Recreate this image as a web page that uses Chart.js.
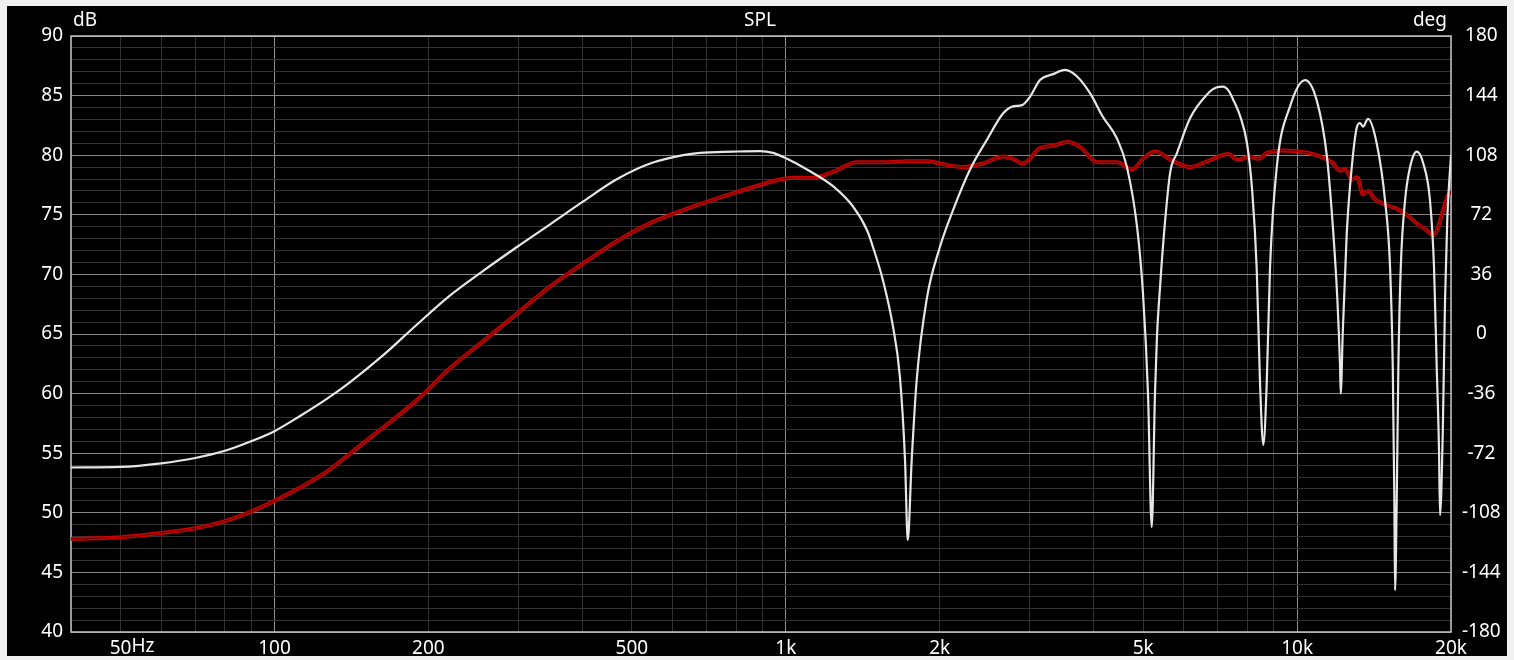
<!DOCTYPE html>
<html>
<head>
<meta charset="utf-8">
<script src="https://cdn.jsdelivr.net/npm/chart.js@4/dist/chart.umd.min.js"></script>
<style>
  html, body { margin: 0; padding: 0; background: #f0f0f0; }
  canvas { display: block; }
</style>
</head>
<body>
<canvas id="splChart" width="1514" height="660"></canvas>
<script>
// frequency grid (Hz) and which of them get a label
var xTicks = [40, 50, 60, 70, 80, 90, 100, 200, 300, 400, 500, 600, 700, 800, 900,
  1000, 2000, 3000, 4000, 5000, 6000, 7000, 8000, 9000, 10000, 20000];
var xMajor = [100, 1000, 10000];
var xLabels = { 50: '50', 100: '100', 200: '200', 500: '500', 1000: '1k', 2000: '2k',
  5000: '5k', 10000: '10k', 20000: '20k' };

// white trace
var whiteFreq = [40, 50, 60, 70, 80, 90, 100, 112, 127, 140, 163, 190, 220, 256, 298, 346, 401, 468, 543, 630,
  680, 788, 890, 944, 1006, 1100, 1237, 1353, 1442, 1481, 1549, 1621, 1672, 1711, 1732, 1763, 1803, 1886,
  2002, 2124, 2293, 2474, 2660, 2783, 2898, 3004, 3142, 3332, 3517, 3712, 3936, 4173, 4444, 4648, 4864,
  4996, 5110, 5197, 5273, 5321, 5396, 5494, 5644, 5825, 6175, 6667, 6972, 7161, 7350, 7493, 7750, 7980,
  8170, 8337, 8463, 8589, 8723, 8853, 9125, 9688, 10364, 10925, 11429, 11775, 11989, 12135, 12174, 12283,
  12505, 12792, 13081, 13275, 13456, 13765, 14311, 14860, 15200, 15385, 15497, 15545, 15664, 15780,
  15952, 16262, 16633, 17140, 17655, 18196, 18528, 18752, 18948, 19036, 19271, 19471, 19674, 20000];
var whiteDb = [53.8, 53.85, 54.15, 54.6, 55.2, 56.0, 56.85, 58.1, 59.6, 60.9, 63.2, 65.8, 68.2, 70.3, 72.3,
  74.2, 76.1, 78.0, 79.3, 80.0, 80.2, 80.3, 80.35, 80.2, 79.7, 78.8, 77.4, 75.7, 73.7, 72.3, 69.5, 65.6,
  61.4, 54.4, 47.7, 54.4, 61.1, 67.9, 72.3, 75.4, 78.8, 81.3, 83.5, 84.1, 84.2, 84.9, 86.3, 86.8, 87.15,
  86.6, 85.2, 83.2, 81.4, 79.0, 74.0, 68.4, 60.0, 48.8, 60.0, 64.8, 69.0, 73.5, 78.5, 80.2, 83.1, 85.1,
  85.7, 85.75, 85.4, 84.7, 83.2, 81.0, 77.0, 70.5, 60.9, 55.7, 60.9, 70.6, 79.0, 84.1, 86.3, 84.6, 80.0,
  73.4, 67.9, 62.3, 60.0, 65.1, 73.4, 79.0, 82.3, 82.7, 82.4, 83.05, 81.0, 76.2, 70.6, 62.3, 51.1, 43.5,
  51.1, 62.3, 70.6, 76.2, 79.0, 80.3, 79.3, 76.2, 70.6, 62.3, 55.3, 49.8, 56.7, 67.9, 74.8, 80.0];

// red trace
var redFreq = [40, 50, 60, 70, 80, 90, 100, 112, 127, 139, 156, 174, 187, 195, 220, 256, 298, 346, 401, 468,
  543, 630, 680, 788, 890, 961, 1033, 1131, 1237, 1378, 1549, 1726, 1889, 2002, 2222, 2431, 2660, 2783,
  2910, 3142, 3332, 3549, 3762, 4062, 4444, 4755, 4996, 5273, 5720, 6175, 6848, 7328, 7664, 8088, 8384,
  8733, 9385, 10457, 11088, 11704, 12135, 12410, 12806, 13098, 13460, 13765, 14204, 14995, 15684, 16404,
  17164, 17948, 18444, 19732, 20000];
var redDb = [47.8, 47.95, 48.3, 48.7, 49.3, 50.1, 51.0, 52.1, 53.5, 54.8, 56.5, 58.1, 59.2, 59.9, 62.1, 64.4,
  66.7, 69.0, 70.9, 72.8, 74.3, 75.4, 75.9, 76.8, 77.5, 77.9, 78.1, 78.1, 78.6, 79.4, 79.4, 79.5, 79.5,
  79.3, 79.0, 79.3, 79.9, 79.7, 79.3, 80.6, 80.8, 81.1, 80.7, 79.4, 79.4, 78.8, 79.7, 80.3, 79.5, 79.0,
  79.7, 80.1, 79.6, 79.9, 79.7, 80.2, 80.4, 80.2, 79.9, 79.4, 78.7, 78.8, 78.0, 78.15, 76.7, 77.0, 76.3,
  75.8, 75.5, 75.0, 74.25, 73.7, 73.3, 76.6, 77.0];

function toPoints(fs, vs) {
  return fs.map(function (f, i) { return { x: f, y: vs[i] }; });
}

var textFont = { family: "'Noto Sans', 'Open Sans', sans-serif", size: 19 };

// backgrounds, plot frame and the corner texts
var panelPlugin = {
  id: 'panel',
  beforeDraw: function (chart) {
    var ctx = chart.ctx;
    ctx.save();
    ctx.fillStyle = '#f0f0f0';
    ctx.fillRect(0, 0, chart.width, chart.height);
    ctx.fillStyle = '#000000';
    ctx.fillRect(7, 6, 1500, 650);
    ctx.restore();
  },
  beforeDatasetsDraw: function (chart) {
    var a = chart.chartArea, ctx = chart.ctx;
    ctx.save();
    ctx.strokeStyle = '#c4c4c4';
    ctx.lineWidth = 1.5;
    ctx.strokeRect(a.left, a.top, a.right - a.left, a.bottom - a.top);
    ctx.restore();
  },
  afterDraw: function (chart) {
    var ctx = chart.ctx;
    ctx.save();
    ctx.fillStyle = '#ffffff';
    ctx.font = textFont.size + 'px ' + textFont.family;
    ctx.textBaseline = 'middle';
    ctx.textAlign = 'left';
    ctx.fillText('dB', 73, 21);
    ctx.textAlign = 'center';
    ctx.fillText('SPL', 760, 21);
    ctx.textAlign = 'right';
    ctx.fillText('deg', 1447, 21);
    // "Hz" unit after the 50 label
    var x50 = chart.scales.x.getPixelForValue(50);
    var w50 = ctx.measureText('50').width;
    ctx.textAlign = 'left';
    ctx.fillText('Hz', x50 + w50 / 2, 647);
    ctx.restore();
  }
};

new Chart(document.getElementById('splChart').getContext('2d'), {
  type: 'line',
  data: {
    datasets: [{
      label: 'white',
      data: toPoints(whiteFreq, whiteDb),
      borderColor: '#e6e6e6',
      borderWidth: 2.2,
      pointRadius: 0,
      cubicInterpolationMode: 'monotone'
    }, {
      label: 'red inner',
      data: toPoints(redFreq, redDb),
      borderColor: '#700000',
      borderWidth: 1.2,
      pointRadius: 0,
      cubicInterpolationMode: 'monotone'
    }, {
      label: 'red',
      data: toPoints(redFreq, redDb),
      borderColor: '#cc0000',
      borderWidth: 4,
      pointRadius: 0,
      cubicInterpolationMode: 'monotone'
    }]
  },
  options: {
    responsive: false,
    animation: false,
    layout: { padding: { top: 36, left: 0, right: 0, bottom: 0 } },
    plugins: {
      legend: { display: false },
      tooltip: { enabled: false }
    },
    scales: {
      x: {
        type: 'logarithmic',
        min: 40,
        max: 20000,
        afterBuildTicks: function (axis) {
          axis.ticks = xTicks.map(function (v) { return { value: v }; });
        },
        afterFit: function (axis) { axis.height = 28; },
        ticks: {
          autoSkip: false,
          maxRotation: 0,
          padding: 5,
          color: '#ffffff',
          font: textFont,
          callback: function (v) { return xLabels[v] || ''; }
        },
        grid: {
          drawTicks: false,
          color: function (c) {
            return xMajor.indexOf(c.tick.value) >= 0 ? '#8e8e8e' : '#323232';
          },
          lineWidth: 1
        },
        border: { display: false }
      },
      y: {
        position: 'left',
        min: 40,
        max: 90,
        afterFit: function (axis) { axis.width = 71; },
        ticks: {
          stepSize: 1,
          autoSkip: false,
          padding: 8,
          color: '#ffffff',
          font: textFont,
          callback: function (v) { return v % 5 === 0 ? String(v) : ''; }
        },
        grid: {
          drawTicks: false,
          color: function (c) { return c.tick.value % 5 === 0 ? '#858585' : '#323232'; },
          lineWidth: 1
        },
        border: { display: false }
      },
      y2: {
        position: 'right',
        min: -180,
        max: 180,
        afterFit: function (axis) { axis.width = 63; },
        ticks: {
          stepSize: 36,
          autoSkip: false,
          padding: 11,
          crossAlign: 'center',
          color: '#ffffff',
          font: textFont
        },
        grid: { display: false, drawTicks: false },
        border: { display: false }
      }
    }
  },
  plugins: [panelPlugin]
});
</script>
</body>
</html>
